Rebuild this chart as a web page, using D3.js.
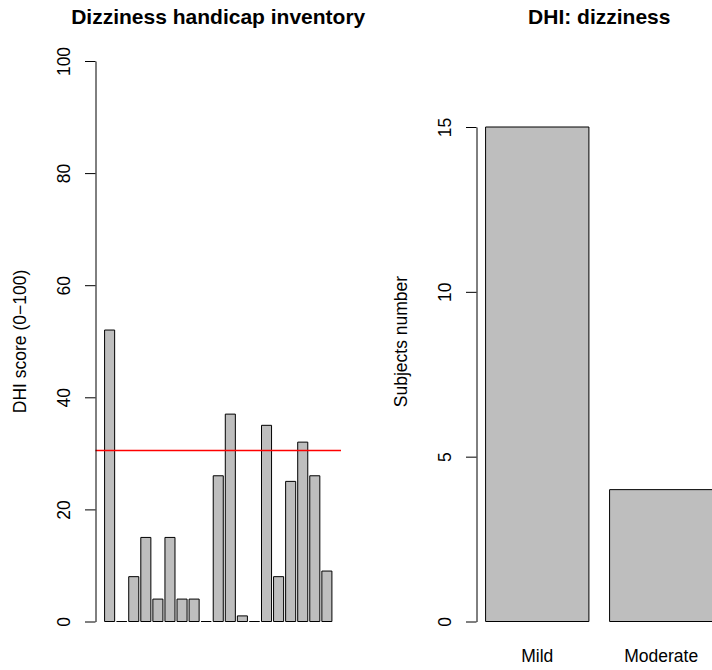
<!DOCTYPE html>
<html>
<head>
<meta charset="utf-8">
<script src="https://cdn.jsdelivr.net/npm/d3@7"></script>
<style>
  body { margin: 0; background: #fff; }
  text { font-family: "Liberation Sans", Arial, sans-serif; }
</style>
</head>
<body>
<script>
// left panel: one bar per subject
const dhiScores = [52, 0, 8, 15, 4, 15, 4, 4, 0, 26, 37, 1, 0, 35, 8, 25, 32, 26, 9];
const dhiLine = 30.5;
const dhiTicks = [0, 20, 40, 60, 80, 100];

// right panel: subjects per category
const severityNames = ["Mild", "Moderate"];
const severityCounts = [15, 4];
const countTicks = [0, 5, 10, 15];

const fontSize = 17.5;
const barFill = "#bebebe";

let appendSVG = (width, height) => {
    return d3.select('body')
        .append("svg")
        .attr("width", width)
        .attr("height", height)
}

// R barplot layout: width 1, space 0.2
let barLeft = (i) => 0.2 + i * 1.2;

let barPath = (x, y, i, v) => {
    let x0 = x(barLeft(i)), x1 = x(barLeft(i) + 1);
    let y0 = y(0), y1 = y(v);
    return `M${x0},${y0}V${y1}H${x1}V${y0}Z`;
}

let drawBars = (svg, values, x, y) => {
    svg.append("g")
        .selectAll("path")
        .data(values)
        .enter()
        .append("path")
        .attr("d", (d, i) => barPath(x, y, i, d))
        .attr("fill", barFill)
        .attr("stroke", "#000")
        .attr("stroke-width", 1)
}

let drawYAxis = (svg, y, ticks, xPos) => {
    let g = svg.append("g")
        .attr("transform", `translate(${xPos},0)`)
        .call(d3.axisLeft(y).tickValues(ticks).tickSize(10.5).tickSizeOuter(0))
    g.select(".domain").attr("stroke", "#000")
    g.selectAll(".tick line").attr("stroke", "#000")
    g.selectAll(".tick text")
        .attr("x", 0)
        .attr("dy", 0)
        .attr("transform", "translate(-25.5,0) rotate(-90)")
        .attr("text-anchor", "middle")
        .attr("fill", "#000")
        .style("font-size", fontSize + "px")
        .style("font-family", '"Liberation Sans", Arial, sans-serif')
}

let drawTitle = (svg, label, cx) => {
    svg.append("text")
        .attr("x", cx)
        .attr("y", 24)
        .attr("text-anchor", "middle")
        .attr("font-weight", "bold")
        .style("font-size", (fontSize * 1.2) + "px")
        .text(label)
}

let drawYLabel = (svg, label, xPos, cy) => {
    svg.append("text")
        .attr("transform", `translate(${xPos - 70},${cy}) rotate(-90)`)
        .attr("text-anchor", "middle")
        .style("font-size", fontSize + "px")
        .text(label)
}

let main = () => {
    const svgWidth = 712;
    const svgHeight = 670;
    let svg = appendSVG(svgWidth, svgHeight);

    // left panel
    let xL = d3.scaleLinear().domain([-0.704, 23.704]).range([95.5, 341]);
    let yL = d3.scaleLinear().domain([0, 100]).range([621.5, 61]);
    drawBars(svg, dhiScores, xL, yL);
    svg.append("line")
        .attr("x1", xL.range()[0])
        .attr("x2", xL.range()[1])
        .attr("y1", yL(dhiLine))
        .attr("y2", yL(dhiLine))
        .attr("stroke", "red")
        .attr("stroke-width", 1.5)
    drawYAxis(svg, yL, dhiTicks, 95.5);
    drawTitle(svg, "Dizziness handicap inventory", (95.5 + 341) / 2);
    drawYLabel(svg, "DHI score (0\u2212100)", 95.5, 341.5);

    // right panel
    let xR = d3.scaleLinear().domain([0.112, 2.488]).range([476.5, 722]);
    let yR = d3.scaleLinear().domain([0, 15]).range([621.5, 127]);
    drawBars(svg, severityCounts, xR, yR);
    drawYAxis(svg, yR, countTicks, 476.5);
    svg.append("g")
        .selectAll("text")
        .data(severityNames)
        .enter()
        .append("text")
        .attr("x", (d, i) => xR(barLeft(i) + 0.5))
        .attr("y", 662)
        .attr("text-anchor", "middle")
        .style("font-size", fontSize + "px")
        .text(d => d)
    drawTitle(svg, "DHI: dizziness", (476.5 + 722) / 2);
    drawYLabel(svg, "Subjects number", 476.5, 341.5);
}

main()
</script>
</body>
</html>
